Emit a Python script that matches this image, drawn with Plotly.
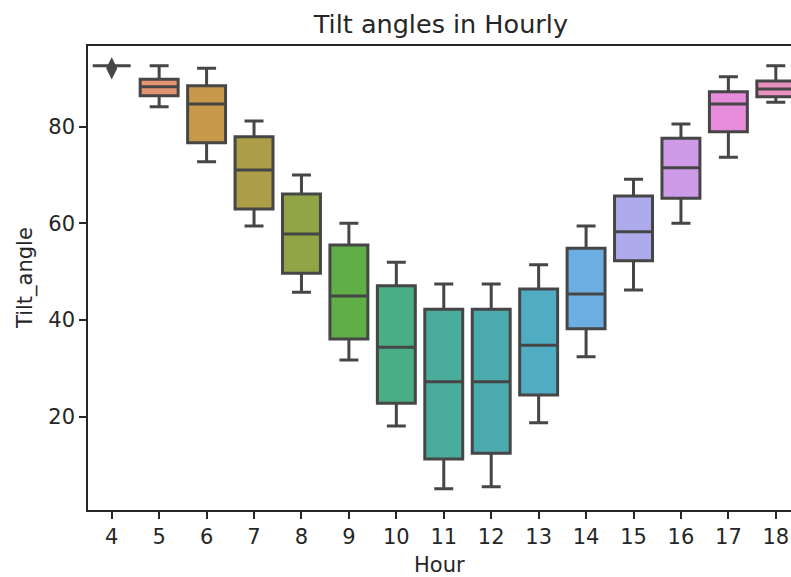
import math
import colorsys
import plotly.graph_objects as go

# Hourly tilt-angle distribution summaries (degrees)
hours = [4, 5, 6, 7, 8, 9, 10, 11, 12, 13, 14, 15, 16, 17, 18]
lower_whisker = [92.62, 84.14, 72.76, 59.45, 45.74, 31.73, 18.07, 5.10, 5.51, 18.76, 32.41, 46.21, 60.01, 73.67, 85.05]
q1 = [92.62, 86.41, 76.69, 62.97, 49.67, 36.07, 22.77, 11.24, 12.42, 24.49, 38.20, 52.27, 65.19, 78.97, 86.21]
median = [92.62, 88.28, 84.70, 71.04, 57.80, 44.97, 34.36, 27.24, 27.24, 34.77, 45.38, 58.27, 71.52, 84.70, 87.80]
q3 = [92.62, 89.80, 88.48, 77.93, 66.07, 55.52, 47.10, 42.22, 42.22, 46.42, 54.84, 65.66, 77.60, 87.24, 89.46]
upper_whisker = [92.62, 92.60, 92.08, 81.18, 70.01, 60.01, 51.94, 47.45, 47.45, 51.45, 59.45, 69.12, 80.56, 90.35, 92.62]
outlier_hours = [4]
outlier_values = [92.08]

# --- HUSL colour helpers (for a hue-spaced categorical palette) ---
_M = [[3.2406, -1.5372, -0.4986], [-0.9689, 1.8758, 0.0415], [0.0557, -0.2040, 1.0570]]
_REF_U, _REF_V = 0.19784, 0.46834
_KAPPA, _EPS = 903.3, 0.008856


def _max_chroma(L, H):
    hrad = math.radians(H)
    sin_h, cos_h = math.sin(hrad), math.cos(hrad)
    sub1 = (L + 16) ** 3 / 1560896.0
    sub2 = sub1 if sub1 > _EPS else L / _KAPPA
    result = float("inf")
    for m1, m2, m3 in _M:
        top = (0.99915 * m1 + 1.05122 * m2 + 1.14460 * m3) * sub2
        rbottom = 0.86330 * m3 - 0.17266 * m2
        lbottom = 0.12949 * m3 - 0.38848 * m1
        bottom = (rbottom * sin_h + lbottom * cos_h) * sub2
        for t in (0.0, 1.0):
            c = L * (top - 1.05122 * t) / (bottom + 0.17266 * sin_h * t)
            if 0.0 < c < result:
                result = c
    return result


def _from_linear(c):
    return 12.92 * c if c <= 0.0031308 else 1.055 * c ** (1 / 2.4) - 0.055


def husl_to_rgb(h, s, l):
    c = _max_chroma(l, h) / 100.0 * s
    hrad = math.radians(h)
    u, v = math.cos(hrad) * c, math.sin(hrad) * c
    t = (l + 16) / 116.0
    var_y = t ** 3 if t ** 3 > _EPS else (116 * t - 16) / _KAPPA
    var_u = u / (13 * l) + _REF_U
    var_v = v / (13 * l) + _REF_V
    y = var_y
    x = -(9 * y * var_u) / ((var_u - 4) * var_v - var_u * var_v)
    z = (9 * y - 15 * var_v * y - var_v * x) / (3 * var_v)
    rgb = [_from_linear(r[0] * x + r[1] * y + r[2] * z) for r in _M]
    return [min(max(ch, 0.0), 1.0) for ch in rgb]


def palette(n, h=0.01, s=0.9, l=0.7, desat=0.75):
    cols = []
    for i in range(n):
        hue = ((i / n + h) % 1) * 359
        r, g, b = husl_to_rgb(hue, s * 99, l * 99)
        hh, ll, ss = colorsys.rgb_to_hls(r, g, b)
        cols.append(colorsys.hls_to_rgb(hh, ll, ss * desat))
    return cols


def to_hex(c):
    return "#%02x%02x%02x" % tuple(int(round(v * 255)) for v in c)


colors = palette(len(hours))
lum = min(colorsys.rgb_to_hls(*c)[1] for c in colors) * 0.6
gray = to_hex((lum, lum, lum))

fig = go.Figure()
for i, h in enumerate(hours):
    fig.add_trace(go.Box(
        x=[h],
        q1=[q1[i]],
        median=[median[i]],
        q3=[q3[i]],
        lowerfence=[lower_whisker[i]],
        upperfence=[upper_whisker[i]],
        width=0.8,
        whiskerwidth=0.5,
        fillcolor=to_hex(colors[i]),
        line=dict(color=gray, width=3),
        boxpoints=False,
        showlegend=False,
        hoverinfo="skip",
    ))

fig.add_trace(go.Scatter(
    x=outlier_hours,
    y=outlier_values,
    mode="markers",
    marker=dict(symbol="diamond-tall", size=16, color=gray, line=dict(width=0)),
    showlegend=False,
    hoverinfo="skip",
))

axis_font = dict(family="DejaVu Sans", size=21, color="#262626")

fig.update_layout(
    width=791,
    height=577,
    margin=dict(l=88, r=0, t=46, b=67),
    paper_bgcolor="white",
    plot_bgcolor="white",
    title=dict(
        text="Tilt angles in Hourly",
        font=dict(family="DejaVu Sans", size=25.5, color="#262626"),
        x=0.502, xanchor="center", xref="paper",
        y=1 - 24 / 577, yanchor="middle", yref="container",
    ),
    xaxis=dict(
        range=[3.5, 18.32],
        tickmode="array",
        tickvals=hours,
        ticktext=[str(h) for h in hours],
        ticks="outside", ticklen=7, tickwidth=1.6, tickcolor="#262626",
        showline=True, linecolor="#262626", linewidth=1.6, mirror=True,
        showgrid=False, zeroline=False,
        tickfont=axis_font,
    ),
    yaxis=dict(
        range=[0.7, 96.7],
        tickmode="array",
        tickvals=[20, 40, 60, 80],
        ticks="outside", ticklen=7, tickwidth=1.6, tickcolor="#262626",
        showline=True, linecolor="#262626", linewidth=1.6, mirror=False,
        showgrid=False, zeroline=False,
        tickfont=axis_font,
    ),
    annotations=[
        dict(text="Hour", xref="paper", yref="paper", x=0.5, y=-0.1185,
             xanchor="center", yanchor="middle", showarrow=False,
             font=axis_font),
        dict(text="Tilt_angle", xref="paper", yref="paper", x=-0.0896, y=0.5,
             xanchor="center", yanchor="middle", textangle=-90, showarrow=False,
             font=axis_font),
    ],
)

fig.write_html("out.html")
